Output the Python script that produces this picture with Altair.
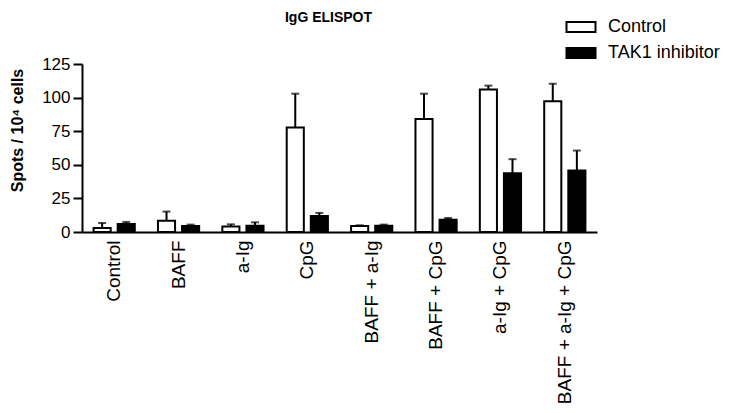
import altair as alt
import pandas as pd

categories = ["Control", "BAFF", "a-Ig", "CpG", "BAFF + a-Ig", "BAFF + CpG",
              "a-Ig + CpG", "BAFF + a-Ig + CpG"]
groups = ["Control", "TAK1 inhibitor"]
control_mean = [3.0, 8.4, 4.0, 77.8, 4.5, 84.0, 106.1, 97.2]
control_err = [3.7, 6.8, 1.7, 25.1, 0.5, 18.9, 2.8, 13.1]
tak1_mean = [6.0, 4.5, 4.7, 11.9, 4.7, 9.2, 43.7, 45.7]
tak1_err = [1.5, 1.0, 2.5, 2.3, 0.8, 1.2, 10.5, 14.9]
y_ticks = [0, 25, 50, 75, 100, 125]

rows = []
for i, c in enumerate(categories):
    rows.append({"cat": c, "group": groups[0], "mean": control_mean[i],
                 "upper": control_mean[i] + control_err[i]})
    rows.append({"cat": c, "group": groups[1], "mean": tak1_mean[i],
                 "upper": tak1_mean[i] + tak1_err[i]})
df = pd.DataFrame(rows)

FONT = "Liberation Sans"

x_axis = alt.Axis(title=None, labelAngle=-90, ticks=False,
                  labelFontSize=19, labelPadding=8,
                  labelFont=FONT, labelColor="black",
                  labelOverlap=False,
                  domainColor="black", domainWidth=2)
x_scale = alt.Scale(paddingInner=0.36, paddingOuter=0.18)
y_axis = alt.Axis(values=y_ticks, grid=False, labelOverlap=False,
                  labelFlush=False, labelBound=False,
                  title="Spots / 10\u2074 cells", titleFont=FONT,
                  titleFontSize=16, titleFontWeight="bold",
                  titleColor="black", titlePadding=16, titleY=66,
                  labelFont=FONT, labelFontSize=17,
                  labelColor="black", labelPadding=3,
                  tickSize=9, tickWidth=2, tickColor="black",
                  domainColor="black", domainWidth=2)
y_scale = alt.Scale(domain=[0, 125], nice=False)

x_enc = alt.X("cat:N", sort=categories, scale=x_scale, axis=x_axis)
xo_enc = alt.XOffset("group:N", sort=groups,
                     scale=alt.Scale(paddingInner=0.29, paddingOuter=0))

bars = alt.Chart(df).mark_bar(stroke="black", strokeWidth=2).encode(
    x=x_enc,
    xOffset=xo_enc,
    y=alt.Y("mean:Q", scale=y_scale, axis=y_axis),
    fill=alt.Fill("group:N", sort=groups,
                  scale=alt.Scale(domain=groups, range=["white", "black"]),
                  legend=alt.Legend(title=None, orient="none",
                                    legendX=488, legendY=-48,
                                    symbolType="M-1.45,-0.5H1.45V0.5H-1.45Z",
                                    symbolSize=400, symbolStrokeColor="black",
                                    symbolStrokeWidth=2, labelFont=FONT,
                                    labelFontSize=18, labelColor="black",
                                    labelOffset=16, rowPadding=6,
                                    padding=0)),
)

whisker = alt.Chart(df).mark_rule(color="black", strokeWidth=2).encode(
    x=x_enc,
    xOffset=xo_enc,
    y=alt.Y("mean:Q", scale=y_scale, axis=y_axis),
    y2="upper:Q",
)

cap = alt.Chart(df).mark_tick(color="black", thickness=2, size=8).encode(
    x=x_enc,
    xOffset=xo_enc,
    y=alt.Y("upper:Q", scale=y_scale, axis=y_axis),
)

chart = alt.layer(bars, whisker, cap).properties(
    width=515, height=168,
    title=alt.TitleParams("IgG ELISPOT", font=FONT, fontSize=14,
                          fontWeight="bold", color="black", dx=-11,
                          offset=0, dy=9, frame="group"),
    autosize=alt.AutoSizeParams(type="none"),
    padding={"left": 74, "top": 56, "right": 126, "bottom": 173},
).configure_view(stroke=None)

chart.save("out.html", embed_options={"renderer": "svg", "actions": False})
